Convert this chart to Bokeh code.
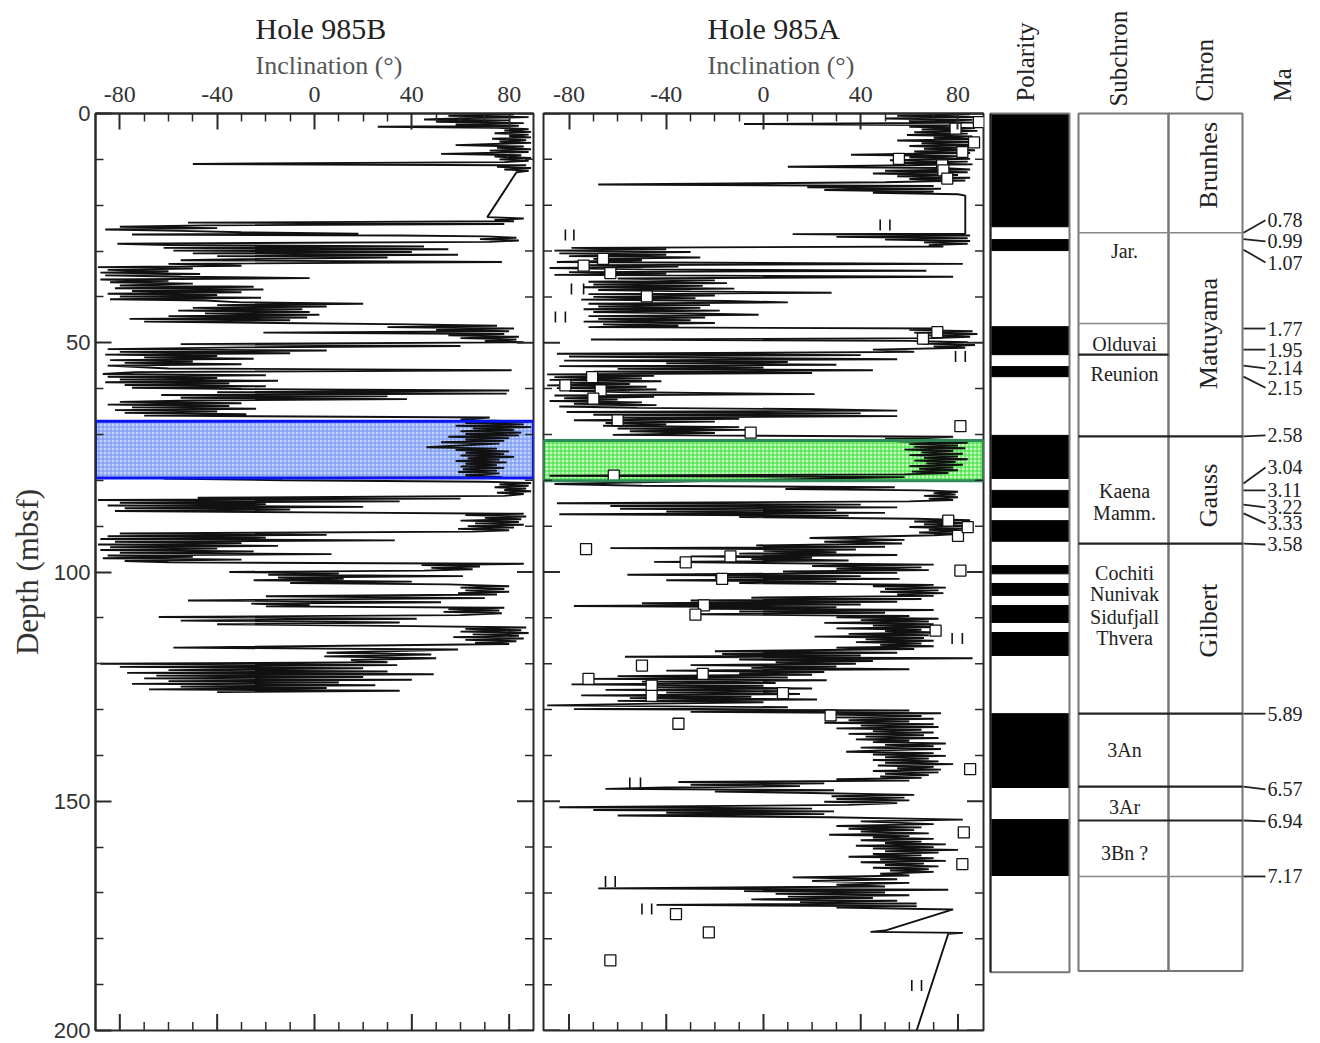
import math
from bokeh.plotting import figure
from bokeh.models import Range1d, FixedTicker, Title
from bokeh.layouts import row
from bokeh.embed import file_html
from bokeh.resources import INLINE
from bokeh.core.properties import value

# ------------------------------------------------------------------ data
X_TICKS = [-80, -40, 0, 40, 80]
X_MINOR = [-70, -60, -50, -30, -20, -10, 10, 20, 30, 50, 60, 70]
Y_TICKS = [0, 50, 100, 150, 200]
Y_MINOR = [10, 20, 30, 40, 60, 70, 80, 90, 110, 120, 130, 140, 160, 170, 180, 190]

# Hole 985B inclination record (depth in mbsf, inclination in degrees)
B_DEPTH = [
    0.2, 0.5, 0.8, 1.0, 1.3, 1.5, 1.8, 2.1, 2.4, 2.7, 2.9, 3.1, 3.4,
    3.7, 4.0, 4.3, 4.6, 4.9, 5.2, 5.5, 5.8, 6.1, 6.4, 6.9, 7.2, 7.5, 7.8, 8.1, 8.4, 8.8, 9.1, 9.4, 9.7, 10.0, 10.3, 10.6, 11.0, 11.3, 11.6, 11.9, 12.2, 12.5, 12.8,
    22.6, 22.9, 23.2, 23.5, 23.8, 24.1, 24.4, 24.7, 25.0, 25.3, 25.6, 25.9, 26.2, 26.4, 26.6,
    26.8, 27.1, 27.4, 27.7, 28.0, 28.4,
    28.7, 29.0, 29.3, 29.6, 29.9, 30.2, 30.5, 30.8, 31.1, 31.4, 31.7, 32.0,
    32.4, 32.8, 33.2,
    33.5, 33.8, 34.1, 34.4, 34.7, 35.0, 35.3, 35.6, 35.9, 36.2, 36.5, 36.8, 37.1,
    37.5, 37.8, 38.1, 38.4, 38.7, 39.0, 39.3, 39.6, 39.9, 40.2, 40.5, 40.8,
    41.2, 41.5, 41.8, 42.1, 42.4, 42.7, 43.0, 43.3, 43.6, 43.9, 44.2, 44.5, 44.8, 45.1, 45.4, 45.7,
    46.0, 46.3, 46.6, 46.9, 47.2, 47.5, 47.8, 48.1, 48.4, 48.7, 49.0, 49.3, 49.6, 49.9,
    50.3, 50.7, 51.0,
    51.4, 51.7, 52.0, 52.3, 52.6, 52.9, 53.2, 53.5, 53.8, 54.1, 54.4, 54.7, 55.0,
    55.6, 56.0, 56.4,
    56.8, 57.1, 57.4, 57.7, 58.0, 58.3, 58.6, 58.9, 59.2, 59.5, 59.8, 60.1,
    60.4, 60.8, 61.1,
    61.4, 61.7, 62.0, 62.3, 62.6,
    62.9, 63.2, 63.5, 63.8, 64.1, 64.4, 64.7, 65.0, 65.3, 65.6, 65.9, 66.3,
    66.8, 67.2, 67.5, 67.8, 68.1, 68.4, 68.7, 69.0, 69.3, 69.6, 69.9, 70.2, 70.5, 70.8, 71.1, 71.4, 71.7, 72.0, 72.4, 72.8,
    73.1, 73.4, 73.7, 74.0, 74.3, 74.6, 74.9, 75.2, 75.5, 75.8, 76.1, 76.4, 76.7, 77.0, 77.3, 77.6, 77.9, 78.2, 78.5, 78.9,
    79.3, 79.6, 80.0, 80.3,
    80.6, 80.9, 81.2, 81.5, 81.8, 82.1, 82.4, 82.7, 83.0, 83.4, 83.8, 84.0,
    84.3, 84.6, 84.9, 85.2, 85.5, 85.8, 86.1, 86.4, 86.7, 87.0, 87.3,
    87.6, 87.9, 88.2, 88.5, 88.8, 89.1, 89.4, 89.7, 90.0, 90.3, 90.6, 90.9, 91.2,
    91.6, 91.9, 92.2, 92.5, 92.8, 93.1, 93.4, 93.7, 94.0, 94.3, 94.6, 94.9, 95.2, 95.5, 95.8, 96.1, 96.4, 96.7, 97.0, 97.3, 97.6, 97.9, 98.2,
    98.5, 98.8, 99.1, 99.4, 99.7,
    100.0, 100.3, 100.6, 100.9, 101.2, 101.5, 101.8, 102.1, 102.4, 102.7,
    103.1, 103.4, 103.7, 104.0, 104.3, 104.6, 104.9,
    105.3, 105.7, 106.2, 106.6, 106.9, 107.2, 107.5,
    107.8, 108.1, 108.4, 108.7, 109.0, 109.4,
    109.8, 110.2, 110.6, 111.0, 111.4, 111.8,
    112.1, 112.4, 112.7, 113.0, 113.3, 113.6, 113.9, 114.2, 114.5, 114.8, 115.1, 115.4, 115.7,
    116.5, 116.9, 117.6, 118.0, 118.4, 118.8, 119.2,
    119.7, 120.0, 120.3, 120.7, 121.0, 121.4,
    121.7, 122.0, 122.3, 122.6, 122.9, 123.2, 123.5, 123.8, 124.1, 124.4, 124.7, 125.0, 125.3, 125.6, 125.9, 126.2,
]
B_INC = [
    82, 55, 88, 62, 45, 80, 50, 86, 58, 84, 26, 75, 88,
    78, 89, 74, 88, 80, 89, 73, 87, 76, 89, 58, 86, 75, 89, 72, 88, 52, 85, 74, 89, 76, 88, 78, -50, 87, 75, 89, 78, 88, 83,
    71, 86, 74, 82, -52, 78, -45, -80, -40, -86, -55, -30, 18, -75, 35,
    70, 83, 68, 84, 72, -81,
    -60, 45, -62, 55, -58, 40, -50, 59, -40, 30, -20, -55,
    77, -60, -30,
    -89, -50, -85, -60, -88, -47, -86, -55, -2, -88, -60, -84, -50,
    -80, -25, -82, -21, -75, -30, -85, -40, -80, -22, -84, -45,
    -30, 20, -40, 5, -50, -5, -56, -2, -45, 2, -60, -3, -76, -10, -70, -15,
    40, 75, 30, 82, 50, 80, -21, 78, 55, 84, 60, 83, 70, 86,
    -55, 60, -30,
    -85, 5, -80, -10, -86, -40, -70, -25, -84, -50, -78, -30, -85,
    -60, 81, -74,
    -87, -20, -85, -40, -80, -15, -86, -35, -78, -20, -75, -30,
    80, -40, 79,
    -63, 30, -55, 38, -50,
    -80, -30, -85, -35, -75, -24, -82, -40, -78, -28, -70, 72,
    60, 88, 62, 86, 58, 89, 65, 82, 60, 85, 62, 84, 55, 80, 62, 78, 52, 76, 60, 46,
    75, 58, 80, 62, 78, 60, 82, 63, 76, 58, 79, 62, 75, 60, 78, 61, 75, 59, 76, 62,
    77, -62, -13, 70,
    89, 76, 88, 74, 87, 78, 89, 75, 86, 78, -48, 60,
    -89, 35, -80, -20, -85, 20, -78, -10, -82, 0, 86,
    62, 87, 70, 85, 60, 84, 66, 86, 63, 82, 59, 80, 65,
    -80, 5, -85, -20, -88, 33, -82, -30, -89, -15, -84, -40, -88, -25, -80, 7, -85, -50, -87, -30, -78, -60, 86,
    44, 68, 48, 65, 45,
    -35, 10, -19, 61, -15, 12, -25, 40, -10, 55,
    80, 60, 78, 62, 80, 59, 75,
    -20, 70, -52, 52, -26, -2, -20,
    78, 55, 76, 53, 77, 60,
    -64, 42, -55, 35, -40, 40,
    87, 62, 85, 60, 88, 65, 84, 57, 86, 62, 83, 66, 80,
    -58, 59, 5, 48, 4, 50, 15,
    30, -88, 34, -80, 20, -60,
    30, -77, 49, -65, 20, -70, 40, -60, 10, -75, 25, -55, 5, -68, 35, -40,
]

# Hole 985A inclination record
A_DEPTH = [
    0.2, 0.5, 0.8, 1.1, 1.4, 1.7, 2.0, 2.3,
    2.6, 2.9, 3.2, 3.5, 3.8, 4.1, 4.4, 4.7, 5.0, 5.3, 5.6, 5.9, 6.2, 6.5, 6.8, 7.1, 7.4, 7.7, 8.0, 8.3, 8.6, 9.0, 9.3,
    9.6, 9.9, 10.2, 10.5, 10.8, 11.1, 11.6, 11.9,
    12.2, 12.5, 12.8, 13.1, 13.4, 13.7, 14.0, 14.3, 14.6, 15.0, 15.5, 15.8,
    16.1, 16.4, 16.7, 17.0, 17.3, 17.6, 17.9, 26.2,
    26.3, 26.6, 26.9, 27.2, 27.5, 27.8, 28.1, 28.4, 28.7, 29.0, 29.3,
    29.6, 29.9, 30.2, 30.5, 30.8, 31.1, 31.4, 31.7, 32.0, 32.4, 32.8, 33.1, 33.4, 33.7, 34.0, 34.3, 34.6, 34.9, 35.2, 35.6,
    36.0, 36.4, 36.7, 37.0, 37.3, 37.6, 37.9, 38.2, 38.5, 38.8, 39.1, 39.4, 39.7, 40.0, 40.3, 40.6, 40.9, 41.2,
    41.5, 41.8, 42.1, 42.4, 42.7, 43.0, 43.3, 43.6, 43.9, 44.2, 44.5, 44.8, 45.1, 45.4, 45.7, 46.0, 46.3, 46.6, 46.9,
    47.2, 47.5, 47.8, 48.1, 48.4, 48.7, 49.0, 49.3, 49.6, 49.9, 50.2, 50.5, 50.8, 51.1, 51.5,
    52.0, 52.4, 52.7, 53.0, 53.3, 53.6, 53.9, 54.2, 54.5, 54.8, 55.1, 55.4, 55.7, 56.0, 56.3, 56.6,
    56.9, 57.2, 57.5, 57.8, 58.1, 58.4, 58.7, 59.0, 59.3, 59.6, 59.9, 60.2, 60.5, 60.8, 61.2, 61.5, 61.8, 62.1, 62.4, 62.7, 63.0, 63.3, 63.6, 63.9, 64.2, 64.5, 64.8,
    65.1, 65.4, 65.7, 66.0, 66.3, 66.6, 66.9, 67.2, 67.5, 67.8, 68.1, 68.4, 68.7, 69.0, 69.3, 69.7, 70.1, 70.5,
    70.9, 71.2, 71.5, 71.8, 72.1, 72.4, 72.7, 73.0, 73.3, 73.6, 73.9, 74.2, 74.5, 74.8, 75.1,
    75.4, 75.7, 76.0, 76.3, 76.6, 76.9, 77.2, 77.5, 77.8, 78.1, 78.4, 78.7, 79.0, 79.3,
    80.8, 81.2, 81.5, 81.9, 82.2, 82.5, 82.8, 83.1, 83.4, 83.7, 84.0, 84.3, 84.6,
    85.0, 85.3, 85.6, 85.9, 86.2, 86.5, 86.8, 87.1, 87.4, 87.7, 88.0, 88.4,
    88.7, 89.0, 89.3, 89.6, 89.9, 90.2, 90.5, 90.8, 91.1, 91.4, 91.7, 92.0,
    92.6, 93.0, 93.4, 93.8,
    94.2, 94.5, 94.8, 95.1, 95.4, 95.7, 96.0, 96.3, 96.6, 96.9, 97.2, 97.5, 97.8, 98.1,
    98.4, 98.7, 99.0, 99.3, 99.6, 99.9, 100.2,
    100.6, 100.9, 101.2, 101.5, 101.8, 102.1, 102.4,
    102.8, 103.1, 103.4, 103.7, 104.0, 104.3, 104.6, 104.9, 105.2,
    105.6, 105.9, 106.2, 106.5, 106.8, 107.1, 107.4, 107.7, 108.0, 108.3, 108.6, 108.9, 109.2,
    109.6, 109.9, 110.2, 110.5, 110.8, 111.1, 111.4, 111.7, 112.0, 112.3, 112.6, 112.9, 113.2, 113.5, 113.8, 114.1, 114.4, 114.7, 115.0, 115.3, 115.6, 115.9, 116.2, 116.5, 116.8,
    117.3, 117.6, 117.9, 118.2, 118.5, 118.8, 119.1, 119.4, 119.7, 120.0, 120.3, 120.6, 120.9, 121.2, 121.5, 121.8, 122.1,
    122.4, 122.7, 123.0, 123.3, 123.6, 123.9, 124.2, 124.5, 124.8, 125.1, 125.4, 125.7, 126.0, 126.3, 126.6, 126.9, 127.2, 127.5, 127.8, 128.1, 128.4, 128.7,
    129.1, 129.5, 129.9, 130.2, 130.5, 130.8, 131.1, 131.4, 131.7, 132.0, 132.3, 132.6, 132.9, 133.2, 133.5, 133.8, 134.1, 134.4, 134.7, 135.0, 135.3, 135.6, 135.9, 136.2, 136.5,
    136.8, 137.1, 137.4, 137.7, 138.0, 138.3, 138.6, 138.9, 139.2, 139.5, 139.8, 140.1, 140.4, 140.7, 141.0, 141.3, 141.6, 141.9, 142.2, 142.5, 142.8, 143.1, 143.4, 143.7, 144.0, 144.3, 144.6, 144.9, 145.2, 145.5,
    145.8, 146.1, 146.4, 146.7, 147.0, 147.3, 147.6, 147.9, 148.2,
    148.6, 148.9, 149.2, 149.5, 149.8, 150.1, 150.4, 150.8,
    151.3, 151.6, 151.9, 152.2, 152.5, 152.8, 153.1, 153.5, 154.0, 154.4,
    155.0, 155.4, 155.7, 156.0, 156.3, 156.6, 157.0, 157.3, 157.6, 157.9, 158.2, 158.5, 158.8, 159.1, 159.4, 159.7, 160.0, 160.3, 160.6,
    160.9, 161.2, 161.5, 161.8, 162.1, 162.4, 162.7, 163.0, 163.3, 163.6, 163.9, 164.2, 164.5, 164.8, 165.1, 165.4, 165.8, 166.2,
    166.6, 167.0, 167.4, 167.8, 168.2, 168.6, 169.0, 169.3, 169.6, 169.9, 170.2, 170.5, 170.8, 171.1, 171.4, 171.7, 172.0, 172.3, 172.6, 172.9, 173.2,
    173.6, 178.2, 178.5, 178.7, 178.9, 200.0,
]
A_INC = [
    85, 55, 89, 50, 86, 60, 88, -8,
    80, 60, 87, 65, 88, 62, 84, 59, 86, 70, 88, 55, 86, 65, 88, 60, 84, 66, 87, 62, 85, 36, 80,
    60, 85, 52, 84, 58, 86, 10, 73,
    85, 50, 84, 45, 80, 55, 85, 60, 83, 50, -68, 70,
    18, 73, 25, 70, 45, 80, 83, 83,
    12, 85, 30, 84, 50, 85, 66, 84, 68, 74, -79,
    -40, -86, -30, -84, -40, -80, -26, -70, -50, -85, 82, -75, -35, -88, -50, 67, -80, -40, -86, 78,
    -60, -20, -72, -15, -70, -25, -74, -12, -68, -30, 28, -72, -20, -70, -28, -75, -15, 10,
    -72, -22, -68, -26, -74, -18, -70, -30, -2, -72, -24, -68, -30, -74, -20, -66, -35, -72, 73,
    60, 86, 62, 88, 66, 85, 70, -71, 60, 84, 65, 87, 70, 83, 45,
    62, -85, 40, -80, -20, 55, -82, 10, -40, 30, -84, 0, -60, 45, -70, 20,
    -89, -45, -86, -50, -88, -42, -84, -55, -89, -48, -85, -44, -80, -55, 21, -86, -45, -82, -60, -88, -50, -78, -44, -84, -52, 22, 55,
    -81, 40, -70, 55, -60, -10, -78, -20, -65, -40, -66, -10, -60, -7, -55, -20, -62, 78,
    50, 82, 55, 84, 60, 80, 62, 83, 58, 78, 65, 82, 60, 80, 66,
    84, 62, 79, 67, 82, 60, 78, 64, 80, 61, 76, 58, -88, 58,
    -86, -50, 54, 9, 66, 80, 70, 79, 66, 80, 68, 78, 60,
    -85, 40, -63, 55, -59, 30, -40, 50, -84, 35, -10, 63,
    85, 62, 84, 66, 86, 60, 82, 68, 85, 64, 80, 70,
    19, 58, 25, 57,
    -3, 50, -63, 38, 0, 30, -10, 55, -30, 20, -5, 35, -45, 10,
    70, 20, 65, 30, 68, 8, 55,
    -56, 40, -20, 56, -40, 30, -10,
    70, 45, 75, 50, 72, 48, 74, 55, 70,
    -5, 65, -30, 55, -50, 40, -78, 30, -24, 70, -10, 50, -28,
    60, 30, 72, 40, 68, 25, 70, 45, 73, 30, 65, 50, 72, 35, 68, 21, 66, 42, 70, 38, 65, 48, 70, 30, 62,
    -20, 55, -17, 40, -57, 86, -10, 45, 5, 38, -30, 30, -5, 60, -40, 25, -10,
    20, -60, 10, -72, 26, -50, 5, -79, 0, -45, 20, -65, 7, -40, 15, -75, -5, -55, 22, -60, 0, -45,
    -89, 10, -78, 60, -30, 73, 27, 65, 30, 70, 35, 60, 25, 70, 40, 72, 30, 65, 45, 70, 35, 66, 42, 72, 38,
    60, 45, 75, 50, 70, 40, 73, 48, 34, 70, 45, 75, 50, 68, 45, 72, 50, 78, 47, 70, 55, 73, 45, 72, 50, 68, 48, 65, 30, 60,
    -35, 25, -30, 15, -40, -65, 29, -20, 20,
    62, 28, 58, 30, 60, 25, 55, 35,
    -84, 20, -70, 29, -40, 25, -60, 27, 82, 40,
    70, 30, 65, 35, 62, 40, 68, 27, 60, 45, 70, 40, 65, 50, 75, 38, 70, 45, 80,
    50, 72, 45, 65, 35, 70, 48, 75, 40, 66, 50, 72, 45, 68, 52, 70, 48, 60,
    12, 55, 20, 60, 30, 50, -68, 76, -8, 50, 5, 60, 10, 45, -5, 55, 15, 63, -44, 63, 30,
    78, 50, 44, 82, 76, 63,
]

# discrete samples of Hole 985A (open squares) and paired tick marks
A_SQUARE_DEPTH = [1.9, 3.3, 6.3, 8.4, 9.9, 11.3, 12.4, 14.2, 31.7, 33.2, 34.8, 39.9, 47.7, 49.1,
                  57.5, 59.3, 60.4, 62.2, 66.9, 69.6, 68.2, 79.0, 88.8, 92.1, 90.2, 96.6, 95.0,
                  97.9, 101.5, 99.7, 107.3, 109.3, 112.8, 120.4, 122.2, 123.3, 124.8, 127.0,
                  126.4, 131.3, 133.1, 143.0, 156.8, 163.7, 174.6, 178.6, 184.7]
A_SQUARE_INC = [88.6, 79, 86.6, 81.8, 55.7, 73.5, 74, 75.6, -66, -74, -63, -48, 71.5, 65.6,
                -70.5, -81.5, -67, -70, -60, -5.3, 81, -61.6, 76, 80, 84, -13.6, -73,
                -32, -17, 81, -24.5, -28, 70.8, -50, -25, -72, -46, -46,
                8, 27.6, -35, 85, 82.4, 81.8, -36, -22.5, -63]
A_DASH_DEPTH = [26.5, 26.5, 24.3, 24.3, 38.3, 38.3, 44.4, 44.4, 53.0, 53.0, 114.5, 114.5,
                146.0, 146.0, 167.5, 167.5, 173.5, 173.5, 190.2, 190.2]
A_DASH_INC = [-81.5, -78, 48, 52, -79, -74, -85.6, -81.5, 79, 83, 77.6, 81.8,
              -55, -50.6, -65, -61, -50, -46, 61, 65]

# highlighted intervals (depth top, depth bottom)
B_BOX = [67.1, 79.5]
A_BOX = [71.3, 80.1]

# polarity column: normal (black) intervals
POL_TOP = [0.0, 27.5, 46.5, 55.2, 70.2, 82.2, 88.8, 98.6, 102.5, 107.3, 113.2, 130.9, 154.0]
POL_BOTTOM = [24.7, 29.9, 52.6, 57.4, 79.6, 85.9, 93.3, 100.4, 105.1, 111.0, 118.2, 147.0, 166.2]
POL_END = 187.3
COLUMN_END = 187.0

SUB_NAMES = ["Jar.", "Olduvai", "Reunion", "Kaena", "Mamm.", "Cochiti", "Nunivak",
             "Sidufjall", "Thvera", "3An", "3Ar", "3Bn ?"]
SUB_DEPTH = [29.9, 50.2, 56.9, 82.4, 87.2, 100.3, 104.7, 109.9, 114.5, 138.9, 151.2, 161.2]

CHRON_NAMES = ["Brunhes", "Matuyama", "Gauss", "Gilbert"]
CHRON_DEPTH = [11.3, 48.0, 83.3, 110.6]

HEADERS = ["Polarity", "Subchron", "Chron", "Ma"]

# boundaries drawn across the subchron / chron columns
BOUND_DEPTH = [26.0, 45.8, 52.6, 70.4, 93.8, 130.9, 146.8, 154.2, 166.4]
BOUND_KIND = ["both", "sub", "sub", "both", "both", "both", "both", "both", "both"]

MA_LABELS = ["0.78", "0.99", "1.07", "1.77", "1.95", "2.14", "2.15", "2.58", "3.04",
             "3.11", "3.22", "3.33", "3.58", "5.89", "6.57", "6.94", "7.17"]
MA_BOUND_DEPTH = [26.0, 27.4, 29.7, 46.9, 51.5, 55.0, 57.4, 70.4, 80.7,
                  82.2, 85.3, 87.2, 93.8, 130.9, 146.8, 154.2, 166.4]
MA_LABEL_DEPTH = [23.3, 27.9, 32.5, 46.9, 51.5, 55.6, 59.8, 70.2, 77.2,
                  82.2, 85.9, 89.4, 94.0, 130.9, 147.4, 154.4, 166.4]

# ------------------------------------------------------------------ layout
SERIF = "Liberation Serif"
SANS = "Liberation Sans"
H = 1042
TOP = 113
BOT = 12
FRAME_H = H - TOP - BOT
PX = 200.0 / FRAME_H          # depth units per pixel
INK = "#111111"
AX = "#2a2a2a"


def style_axis(ax):
    ax.major_tick_in = 16
    ax.major_tick_out = 0
    ax.minor_tick_in = 8
    ax.minor_tick_out = 0
    ax.axis_line_color = AX
    ax.axis_line_width = 2
    ax.major_tick_line_color = AX
    ax.major_tick_line_width = 2
    ax.minor_tick_line_color = AX
    ax.minor_tick_line_width = 1.5


def edge_ticks(p, xr, left):
    """Inward tick marks on the unlabeled sides (half of each dash is clipped by the frame)."""
    yb = max(p.y_range.start, p.y_range.end)
    p.scatter(x=X_TICKS, y=[yb] * len(X_TICKS), marker="dash", angle=math.pi / 2, size=33,
              line_color=AX, line_width=2)
    p.scatter(x=X_MINOR, y=[yb] * len(X_MINOR), marker="dash", angle=math.pi / 2, size=17,
              line_color=AX, line_width=1.5)
    sides = [xr[1]] + ([xr[0]] if left else [])
    for xs in sides:
        p.scatter(x=[xs] * len(Y_TICKS), y=Y_TICKS, marker="dash", size=33,
                  line_color=AX, line_width=2)
        p.scatter(x=[xs] * len(Y_MINOR), y=Y_MINOR, marker="dash", size=17,
                  line_color=AX, line_width=1.5)


def panel(name, depth, inc, xr, width, bl, br, depth_axis, title_offset, box, box_fill,
          box_hatch, box_line, squares=None, dashes=None):
    p = figure(width=width, height=H, x_range=Range1d(*xr), y_range=Range1d(200, 0),
               x_axis_location="above", y_axis_location=("left" if depth_axis else None),
               output_backend="svg", toolbar_location=None,
               min_border_top=TOP, min_border_bottom=BOT, min_border_left=bl,
               min_border_right=br, title=None)
    p.xgrid.visible = False
    p.ygrid.visible = False
    p.outline_line_color = AX
    p.outline_line_width = 2
    p.xaxis.ticker = FixedTicker(ticks=X_TICKS, minor_ticks=X_MINOR)
    for ax in p.above:
        style_axis(ax)
        ax.major_label_text_font = SERIF
        ax.major_label_text_font_size = "24px"
        ax.major_label_text_color = "#333333"
        ax.major_label_standoff = 12
        ax.major_label_overrides = {t: str(t) for t in X_TICKS}
    if depth_axis:
        p.yaxis.ticker = FixedTicker(ticks=Y_TICKS, minor_ticks=Y_MINOR)
        for ax in p.left:
            style_axis(ax)
            ax.major_label_text_font = SANS
            ax.major_label_text_font_size = "22px"
            ax.major_label_text_color = "#333333"
            ax.major_label_standoff = 5
            ax.axis_label = "Depth (mbsf)"
            ax.axis_label_text_font = SERIF
            ax.axis_label_text_font_size = "31px"
            ax.axis_label_text_font_style = "normal"
            ax.axis_label_text_color = "#333333"
            ax.axis_label_standoff = 6

    p.add_layout(Title(text="Inclination (\u00b0)", align="left", offset=title_offset,
                       text_font=SERIF, text_font_size="26px", text_font_style="normal",
                       text_color="#555555", standoff=7), "above")
    p.add_layout(Title(text=name, align="left", offset=title_offset, text_font=SERIF,
                       text_font_size="30px", text_font_style="normal",
                       text_color="#222222", standoff=2), "above")

    # highlighted interval (fill under the record, outline over it)
    p.quad(left=[xr[0]], right=[xr[1]], top=[box[0]], bottom=[box[1]],
           fill_color=box_fill, line_color=None, hatch_pattern="+",
           hatch_color=box_hatch, hatch_scale=4, hatch_weight=1)
    n = min(len(depth), len(inc))
    p.line(x=inc[:n], y=depth[:n], line_color=INK, line_width=1.9)
    if dashes is not None:
        p.scatter(x=dashes[1], y=dashes[0], marker="dash", angle=math.pi / 2, size=11,
                  line_color=INK, line_width=1.6)
    if squares is not None:
        p.scatter(x=squares[1], y=squares[0], marker="square", size=11,
                  fill_color="white", line_color=INK, line_width=1.3)
    p.quad(left=[xr[0]], right=[xr[1]], top=[box[0]], bottom=[box[1]],
           fill_color=None, line_color=box_line, line_width=3)
    edge_ticks(p, xr, left=not depth_axis)
    return p


pB = panel("Hole 985B", B_DEPTH, B_INC, (-90, 90), 538, 95, 5, True, 160,
           B_BOX, "#c3d3fb", "#6d8ff2", "#0a14f0")
pA = panel("Hole 985A", A_DEPTH, A_INC, (-90.5, 90.5), 449, 5, 4, False, 164,
           A_BOX, "#c9f7c2", "#30e030", "#2e8b57",
           squares=(A_SQUARE_DEPTH, A_SQUARE_INC), dashes=(A_DASH_DEPTH, A_DASH_INC))

# --------------------------------------------- polarity / subchron / chron / Ma column
# This figure's frame fills its whole canvas (its frame is not aligned with the others),
# so the depth range is extended to cover the header area above depth 0.
X0 = 987
W3 = 325
p3 = figure(width=W3, height=H, x_range=Range1d(X0, X0 + W3),
            y_range=Range1d(200 + BOT * PX, -TOP * PX),
            x_axis_type=None, y_axis_type=None, output_backend="svg",
            toolbar_location=None, min_border=0, min_border_top=0, min_border_bottom=0,
            min_border_left=0, min_border_right=0, title=None)
p3.frame_align = False
p3.xgrid.visible = False
p3.ygrid.visible = False
p3.outline_line_color = None

POL_L, POL_R = 990, 1069
SUB_L, SUB_R, CHR_R = 1078, 1168, 1242
LAB_X = 1266

# polarity
p3.quad(left=POL_L, right=POL_R, top=POL_TOP, bottom=POL_BOTTOM, fill_color="black",
        line_color="black", line_width=1)
p3.quad(left=[POL_L], right=[POL_R], top=[0], bottom=[POL_END], fill_color=None,
        line_color="#777777", line_width=2)
p3.segment(x0=[POL_L], y0=[0], x1=[POL_L], y1=[POL_END], line_color="#222222", line_width=2)
# subchron and chron columns
p3.quad(left=[SUB_L, SUB_R], right=[SUB_R, CHR_R], top=[0, 0],
        bottom=[COLUMN_END, COLUMN_END], fill_color=None, line_color="#777777", line_width=2)

bx0, bx1, by, bcol, bw = [], [], [], [], []
for d, k in zip(BOUND_DEPTH, BOUND_KIND):
    by.append(d)
    bx0.append(SUB_L)
    bx1.append(SUB_R if k == "sub" else CHR_R)
    heavy = d in (52.6, 70.4, 93.8, 130.9, 146.8, 154.2)
    bcol.append("#222222" if heavy else "#888888")
    bw.append(2.2 if heavy else 1.6)
p3.segment(x0=bx0, y0=by, x1=bx1, y1=by, line_color=bcol, line_width=bw)

# leaders to the Ma labels
p3.segment(x0=[CHR_R + 1] * len(MA_LABELS), y0=MA_BOUND_DEPTH,
           x1=[LAB_X - 1] * len(MA_LABELS), y1=MA_LABEL_DEPTH,
           line_color="#222222", line_width=1.8)
p3.text(x=[LAB_X + 1] * len(MA_LABELS), y=MA_LABEL_DEPTH, text=MA_LABELS,
        text_font=value(SERIF), text_font_size="20px", text_color="#222222",
        text_align="left", text_baseline="middle")

# subchron names
p3.text(x=[(SUB_L + SUB_R) / 2 + 1] * len(SUB_NAMES), y=SUB_DEPTH, text=SUB_NAMES,
        text_font=value(SERIF), text_font_size="20px", text_color="#222222",
        text_align="center", text_baseline="middle")
# chron names (rotated)
p3.text(x=[(SUB_R + CHR_R) / 2 + 3] * len(CHRON_NAMES), y=CHRON_DEPTH, text=CHRON_NAMES,
        text_font=value(SERIF), text_font_size="26px", text_color="#222222",
        text_align="center", text_baseline="middle", angle=math.pi / 2)
# column headers (rotated, above the columns)
p3.text(x=[1025, 1118, 1204, 1282], y=[-2.6, -1.5, -2.6, -2.6], text=HEADERS,
        text_font=value(SERIF), text_font_size="25px", text_color="#222222",
        text_align="left", text_baseline="middle", angle=math.pi / 2)

layout = row(pB, pA, p3)
open("out.html", "w").write(file_html(layout, INLINE, "Hole 985 inclination"))
